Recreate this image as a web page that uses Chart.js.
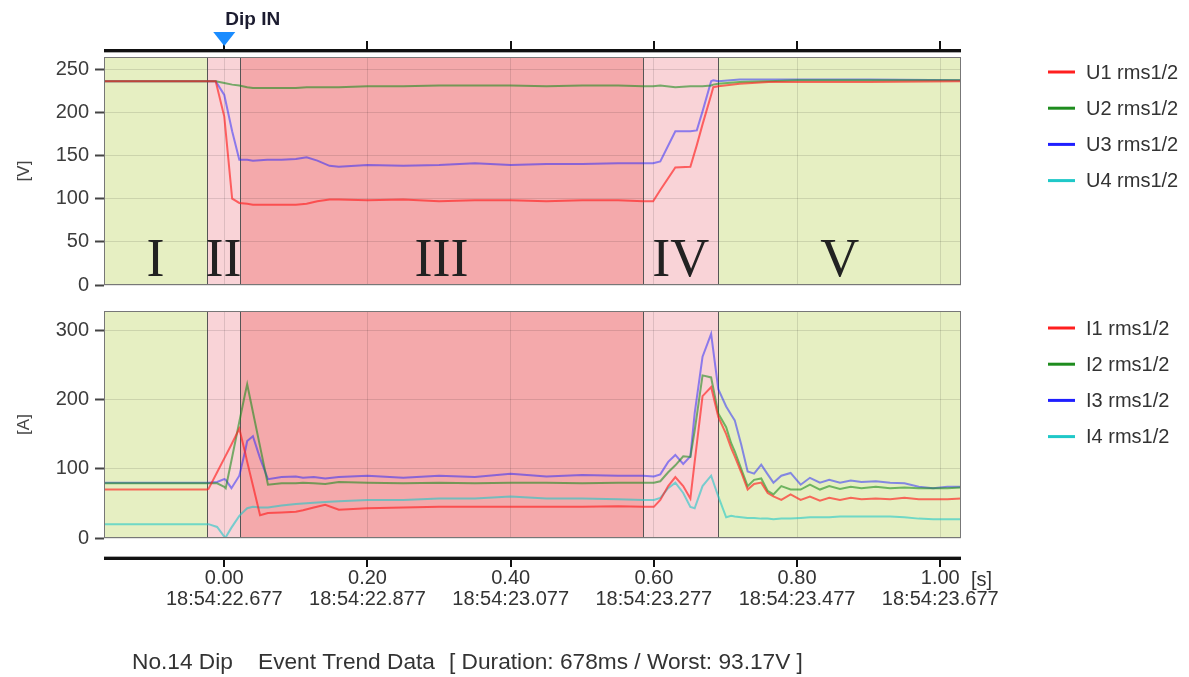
<!DOCTYPE html>
<html>
<head>
<meta charset="utf-8">
<script src="https://cdn.jsdelivr.net/npm/chart.js@4.4.1/dist/chart.umd.min.js"></script>
<style>
  html, body { margin: 0; padding: 0; background: #fff; }
  #wrap { position: relative; width: 1189px; height: 677px; overflow: hidden; }
  canvas { position: absolute; left: 0; }
  #cv { top: 0; }
  #ci { top: 290px; }
</style>
</head>
<body>
<div id="wrap">
  <canvas id="cv" width="1189" height="310"></canvas>
  <canvas id="ci" width="1189" height="387"></canvas>
</div>
<script>
// ---- time axis (seconds relative to dip start) ----
const xMin = -0.168;
const xMax = 1.029;
const xTickValues = [0, 0.2, 0.4, 0.6, 0.8, 1.0];
const xTickSeconds = ['0.00', '0.20', '0.40', '0.60', '0.80', '1.00'];
const xTickClock = ['18:54:22.677', '18:54:22.877', '18:54:23.077', '18:54:23.277', '18:54:23.477', '18:54:23.677'];
const dipTime = 0;

// ---- event phases ----
const regionEdges = [-0.024, 0.022, 0.585, 0.690];
const regionNames = ['I', 'II', 'III', 'IV', 'V'];

// ---- voltage trend [V] ----
const vTicks = [0, 50, 100, 150, 200, 250];
const vMax = 264;
const voltageLabels = ['U1 rms1/2', 'U2 rms1/2', 'U3 rms1/2', 'U4 rms1/2'];
const tV = [-0.168, -0.024, -0.012, 0.0, 0.011, 0.021, 0.032, 0.04, 0.06, 0.08, 0.10, 0.115, 0.13, 0.147, 0.16,
            0.2, 0.25, 0.3, 0.35, 0.4, 0.45, 0.5, 0.55, 0.585, 0.599, 0.609, 0.630, 0.651, 0.660, 0.668,
            0.680, 0.683, 0.69, 0.72, 0.76, 0.8, 0.9, 1.029];
const u1 = [236, 236, 236, 195, 100, 95, 94, 93, 93, 93, 93, 94, 97, 99, 99,
            98, 99, 97, 98, 98, 97, 98, 98, 97, 97, 110, 136, 137, 162, 186,
            220, 229, 230, 233, 235, 235, 235, 236];
const u2 = [236, 236, 236, 234, 232, 231, 229, 228, 228, 228, 228, 229, 229, 229, 229,
            230, 230, 231, 231, 231, 230, 231, 231, 230, 230, 231, 229, 230, 230, 230,
            231, 232, 233, 235, 236, 237, 237, 237];
const u3 = [236, 236, 236, 220, 178, 145, 145, 144, 145, 145, 146, 148, 144, 138, 137,
            139, 138, 139, 141, 139, 140, 140, 141, 141, 141, 143, 178, 178, 179, 201,
            236, 237, 236, 238, 238, 238, 238, 237];
const u4 = [];

// ---- current trend [A] ----
const aTicks = [0, 100, 200, 300];
const aMax = 328;
const currentLabels = ['I1 rms1/2', 'I2 rms1/2', 'I3 rms1/2', 'I4 rms1/2'];
const tI = [-0.168, -0.024, -0.022, -0.01, 0.0, 0.002, 0.01, 0.021, 0.029, 0.032, 0.04, 0.05, 0.061, 0.08, 0.10,
            0.11, 0.125, 0.141, 0.16, 0.2, 0.25, 0.3, 0.35, 0.4, 0.45, 0.5, 0.55, 0.585, 0.600, 0.609,
            0.620, 0.630, 0.641, 0.651, 0.657, 0.668, 0.680, 0.690, 0.701, 0.708, 0.713, 0.722, 0.731, 0.740, 0.750,
            0.759, 0.767, 0.778, 0.791, 0.805, 0.818, 0.832, 0.845, 0.86, 0.875, 0.89, 0.91, 0.93, 0.95, 0.97,
            0.99, 1.01, 1.029];
const i1 = [70, 70, 71, 95, 115, 119, 135, 158, 124, 110, 76, 33, 36, 37, 38,
            40, 44, 48, 41, 43, 44, 45, 45, 45, 45, 45, 46, 45, 45, 55,
            75, 88, 75, 57, 110, 205, 218, 175, 150, 130, 118, 95, 70, 78, 80,
            65, 60, 55, 63, 55, 60, 54, 58, 55, 58, 56, 57, 56, 58, 56,
            56, 56, 57];
const i2 = [79, 79, 79, 79, 74, 72, 112, 168, 208, 222, 182, 132, 77, 79, 79,
            80, 79, 78, 81, 80, 79, 80, 79, 80, 80, 79, 80, 80, 80, 82,
            95, 105, 118, 117, 155, 235, 232, 180, 160, 137, 125, 100, 75, 84, 86,
            68, 63, 75, 70, 70, 77, 70, 75, 71, 74, 72, 74, 72, 73, 72,
            72, 72, 73];
const i3 = [80, 80, 80, 81, 85, 84, 72, 90, 125, 140, 147, 115, 85, 88, 89,
            87, 88, 86, 88, 90, 87, 90, 88, 93, 89, 91, 90, 90, 89, 92,
            110, 120, 107, 118, 180, 262, 295, 215, 190, 178, 170, 135, 96, 93, 106,
            92, 80, 90, 94, 77, 87, 80, 84, 80, 83, 81, 82, 80, 79, 74,
            72, 74, 74];
const i4 = [20, 20, 20, 16, 2, 1, 15, 32, 40, 43, 45, 44, 44, 47, 49,
            50, 51, 52, 53, 55, 55, 57, 57, 60, 57, 57, 56, 55, 55, 58,
            72, 80, 65, 45, 43, 75, 90, 60, 30, 32, 31, 30, 29, 29, 28,
            28, 27, 28, 28, 29, 30, 30, 30, 31, 31, 31, 31, 31, 30, 28,
            27, 27, 27];

const footerParts = ['No.14 Dip', 'Event Trend Data', '[ Duration: 678ms / Worst: 93.17V ]'];

// ---- styling ----
const phaseColors = ['#ff1f1f', '#1e8c1e', '#1f1fff', '#1fc8c8'];
const lineAlpha = [0.65, 0.6, 0.5, 0.6];
const regionFill = ['#e6efc2', '#f9d3d7', '#f4a9ab', '#f9d3d7', '#e6efc2'];
const FONT = '"Liberation Sans", Arial, sans-serif';
Chart.defaults.font.family = FONT;

function rgba(hex, a) {
  const n = parseInt(hex.slice(1), 16);
  return `rgba(${(n >> 16) & 255},${(n >> 8) & 255},${n & 255},${a})`;
}

// phase shading, phase boundaries and plot frame
const regionPlugin = {
  id: 'regions',
  beforeDraw(chart) {
    const { ctx, chartArea: a, scales: { x } } = chart;
    const edges = [x.min, ...regionEdges, x.max];
    ctx.save();
    for (let k = 0; k < regionNames.length; k++) {
      const x0 = x.getPixelForValue(edges[k]);
      const x1 = x.getPixelForValue(edges[k + 1]);
      ctx.fillStyle = regionFill[k];
      ctx.fillRect(x0, a.top, x1 - x0, a.bottom - a.top);
    }
    ctx.restore();
  },
  beforeDatasetsDraw(chart) {
    const { ctx, chartArea: a, scales: { x } } = chart;
    ctx.save();
    ctx.strokeStyle = '#555';
    ctx.lineWidth = 1;
    regionEdges.forEach(t => {
      const px = Math.round(x.getPixelForValue(t)) + 0.5;
      ctx.beginPath();
      ctx.moveTo(px, a.top);
      ctx.lineTo(px, a.bottom);
      ctx.stroke();
    });
    ctx.restore();
  },
  afterDatasetsDraw(chart) {
    const { ctx, chartArea: a } = chart;
    ctx.save();
    ctx.strokeStyle = '#777';
    ctx.lineWidth = 1;
    ctx.strokeRect(a.left + 0.5, a.top + 0.5, a.right - a.left - 1, a.bottom - a.top - 1);
    ctx.restore();
  }
};

// legend on the right of each panel
function legendPlugin(firstY) {
  return {
    id: 'sideLegend',
    afterDraw(chart) {
      const { ctx } = chart;
      ctx.save();
      ctx.font = '20px ' + FONT;
      ctx.textBaseline = 'middle';
      ctx.textAlign = 'left';
      chart.data.datasets.forEach((ds, k) => {
        const y = firstY + k * 36.2;
        ctx.strokeStyle = phaseColors[k];
        ctx.lineWidth = 3;
        ctx.beginPath();
        ctx.moveTo(1048, y);
        ctx.lineTo(1075, y);
        ctx.stroke();
        ctx.fillStyle = '#333';
        ctx.fillText(ds.label, 1086, y + 1);
      });
      ctx.restore();
    }
  };
}

// top time axis, dip marker and phase numerals
const voltageExtras = {
  id: 'voltageExtras',
  afterDraw(chart) {
    const { ctx, chartArea: a, scales: { x } } = chart;
    ctx.save();
    // top axis bar with ticks
    ctx.fillStyle = '#111';
    ctx.fillRect(a.left, 49, a.right - a.left, 3);
    ctx.fillStyle = '#aaa';
    ctx.fillRect(a.left, 52, a.right - a.left, 1);
    ctx.fillStyle = '#111';
    xTickValues.forEach(t => {
      const px = Math.round(x.getPixelForValue(t));
      ctx.fillRect(px - 1, 41, 2, 9);
    });
    // dip marker
    const dx = x.getPixelForValue(dipTime);
    ctx.fillStyle = '#1a8cff';
    ctx.beginPath();
    ctx.moveTo(dx - 11, 32);
    ctx.lineTo(dx + 11, 32);
    ctx.lineTo(dx, 46);
    ctx.closePath();
    ctx.fill();
    ctx.fillStyle = '#1c1c30';
    ctx.font = 'bold 19px ' + FONT;
    ctx.textBaseline = 'middle';
    ctx.textAlign = 'left';
    ctx.fillText('Dip IN', dx + 1, 20);
    // phase numerals
    const edges = [x.min, ...regionEdges, x.max];
    ctx.font = '54px "Liberation Serif", "Times New Roman", serif';
    ctx.textAlign = 'center';
    ctx.textBaseline = 'alphabetic';
    ctx.fillStyle = '#222';
    regionNames.forEach((name, k) => {
      const cx = (x.getPixelForValue(edges[k]) + x.getPixelForValue(edges[k + 1])) / 2;
      ctx.fillText(name, cx, 276);
    });
    ctx.restore();
  }
};

// bottom time axis bar, unit and caption
const currentExtras = {
  id: 'currentExtras',
  afterDraw(chart) {
    const { ctx, chartArea: a, scales: { x } } = chart;
    ctx.save();
    ctx.fillStyle = '#aaa';
    ctx.fillRect(a.left, 266, a.right - a.left, 1);
    ctx.fillStyle = '#111';
    ctx.fillRect(a.left, 267, a.right - a.left, 3);
    xTickValues.forEach(t => {
      const px = Math.round(x.getPixelForValue(t));
      ctx.fillRect(px - 1, 269, 2, 8);
    });
    ctx.font = '20px ' + FONT;
    ctx.fillStyle = '#333';
    ctx.textBaseline = 'middle';
    ctx.textAlign = 'left';
    ctx.fillText('[s]', 971, 290);
    ctx.font = '22.7px ' + FONT;
    const footerX = [132, 258, 449];
    footerParts.forEach((s, k) => ctx.fillText(s, footerX[k], 373));
    ctx.restore();
  }
};

function fixedTicks(values) {
  return scale => { scale.ticks = values.map(v => ({ value: v })); };
}

function buildChart(id, cfg) {
  return new Chart(document.getElementById(id), {
    type: 'line',
    data: {
      datasets: cfg.series.map((s, k) => ({
        label: cfg.labels[k],
        data: s.map((v, i) => ({ x: cfg.t[i], y: v })),
        borderColor: rgba(phaseColors[k], lineAlpha[k]),
        backgroundColor: phaseColors[k],
        borderWidth: 2,
        pointRadius: 0,
        tension: 0,
        fill: false
      }))
    },
    options: {
      responsive: false,
      animation: false,
      events: [],
      layout: { padding: { top: cfg.padTop, left: 0, right: 228, bottom: 0 } },
      plugins: { legend: { display: false }, tooltip: { enabled: false } },
      scales: {
        x: {
          type: 'linear',
          min: xMin,
          max: xMax,
          afterBuildTicks: fixedTicks(xTickValues),
          afterFit: s => { s.height = cfg.xHeight; },
          border: { display: false },
          grid: { color: 'rgba(0,0,0,0.11)', lineWidth: 1, drawTicks: false },
          ticks: cfg.showTimeLabels ? {
            display: true,
            autoSkip: false,
            maxRotation: 0,
            padding: 30,
            color: '#333',
            font: { size: 20, lineHeight: 1.05 },
            callback: (v, i) => [xTickSeconds[i], xTickClock[i]]
          } : { display: false }
        },
        y: {
          min: 0,
          max: cfg.yMax,
          afterBuildTicks: fixedTicks(cfg.yTicks),
          afterFit: s => { s.width = 104; },
          border: { display: false },
          grid: { color: 'rgba(0,0,0,0.11)', lineWidth: 1, tickLength: 9, tickColor: '#444', tickWidth: 2 },
          ticks: { color: '#3c3c3c', font: { size: 20 }, padding: 6 },
          title: { display: true, text: cfg.unit, color: '#444', font: { size: 17 }, padding: { top: 14, bottom: 0 } }
        }
      }
    },
    plugins: [regionPlugin, legendPlugin(cfg.legendY), ...cfg.extra]
  });
}

buildChart('cv', {
  t: tV, series: [u1, u2, u3, u4], labels: voltageLabels,
  yTicks: vTicks, yMax: vMax, unit: '[V]',
  padTop: 57, xHeight: 25, showTimeLabels: false, legendY: 72,
  extra: [voltageExtras]
});

buildChart('ci', {
  t: tI, series: [i1, i2, i3, i4], labels: currentLabels,
  yTicks: aTicks, yMax: aMax, unit: '[A]',
  padTop: 21, xHeight: 139, showTimeLabels: true, legendY: 38,
  extra: [currentExtras]
});
</script>
</body>
</html>
